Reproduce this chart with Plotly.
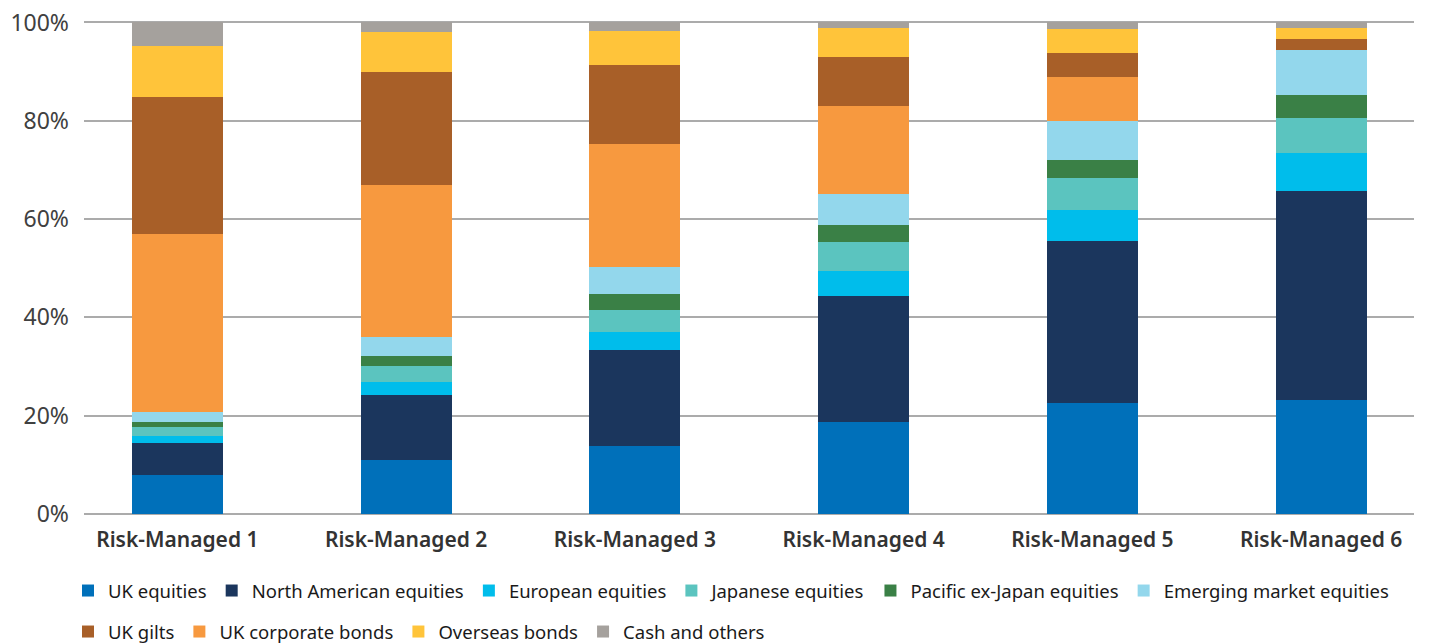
import plotly.graph_objects as go

categories = ["Risk-Managed 1", "Risk-Managed 2", "Risk-Managed 3",
              "Risk-Managed 4", "Risk-Managed 5", "Risk-Managed 6"]

uk_equities = [7.9, 10.9, 13.8, 18.7, 22.5, 23.1]
north_american_equities = [6.5, 13.3, 19.6, 25.7, 33.1, 42.6]
european_equities = [1.4, 2.7, 3.6, 5.0, 6.3, 7.7]
japanese_equities = [1.8, 3.2, 4.6, 5.9, 6.4, 7.1]
pacific_ex_japan_equities = [1.2, 2.0, 3.1, 3.4, 3.8, 4.7]
emerging_market_equities = [2.0, 3.9, 5.5, 6.5, 7.9, 9.3]
uk_corporate_bonds = [36.2, 31.0, 25.0, 17.8, 8.9, 0.0]
uk_gilts = [27.8, 23.0, 16.1, 9.9, 4.9, 2.2]
overseas_bonds = [10.5, 8.1, 6.9, 5.9, 4.9, 2.1]
cash_and_others = [4.7, 1.9, 1.8, 1.2, 1.3, 1.2]

y_tick_vals = [0, 20, 40, 60, 80, 100]
y_tick_text = ["0%", "20%", "40%", "60%", "80%", "100%"]

# (name, values, colour, legend, rank) in stacking order bottom -> top
series = [
    ("UK equities", uk_equities, "#0070BA", "legend", 1),
    ("North American equities", north_american_equities, "#1B365D", "legend", 2),
    ("European equities", european_equities, "#00BDEB", "legend", 3),
    ("Japanese equities", japanese_equities, "#5BC4BF", "legend", 4),
    ("Pacific ex-Japan equities", pacific_ex_japan_equities, "#3A8046", "legend", 5),
    ("Emerging market equities", emerging_market_equities, "#93D7EC", "legend", 6),
    ("UK corporate bonds", uk_corporate_bonds, "#F7993F", "legend2", 2),
    ("UK gilts", uk_gilts, "#A85F28", "legend2", 1),
    ("Overseas bonds", overseas_bonds, "#FFC43A", "legend2", 3),
    ("Cash and others", cash_and_others, "#A5A19D", "legend2", 4),
]

fig = go.Figure()
for name, vals, col, leg, rank in series:
    fig.add_trace(go.Bar(
        x=categories, y=vals, name=name,
        marker=dict(color=col, line=dict(width=0)),
        width=0.397, legend=leg, legendrank=rank,
    ))

font_family = "Noto Sans"
legend_common = dict(
    orientation="h", xref="container", yref="container",
    xanchor="left", yanchor="middle", x=60 / 1430,
    font=dict(family=font_family, size=18.5, color="#1a1a1a"),
    traceorder="normal", bgcolor="rgba(0,0,0,0)", borderwidth=0,
    itemwidth=30, itemclick=False,
)

fig.update_layout(
    width=1430, height=644,
    barmode="stack",
    plot_bgcolor="white", paper_bgcolor="white",
    margin=dict(l=76, r=24, t=13, b=138, autoexpand=False),
    legend=dict(**legend_common, y=1 - 583 / 644),
    legend2=dict(**legend_common, y=1 - 624 / 644),
    xaxis=dict(
        range=[-0.408, 5.406],
        tickfont=dict(family=font_family, size=21, color="#333333", weight=600),
        showgrid=False, ticks="", showline=False,
        ticklabelstandoff=11,
    ),
    yaxis=dict(
        range=[0, 100.3],
        tickvals=y_tick_vals, ticktext=y_tick_text,
        tickfont=dict(family=font_family, size=23, color="#404040"),
        showgrid=True, gridcolor="#ABABAB", gridwidth=1.5,
        zeroline=True, zerolinecolor="#ABABAB", zerolinewidth=1.5,
        ticks="", showline=False, ticklabelstandoff=14,
        ticklabeloverflow="allow",
    ),
)

fig.write_html("out.html")
